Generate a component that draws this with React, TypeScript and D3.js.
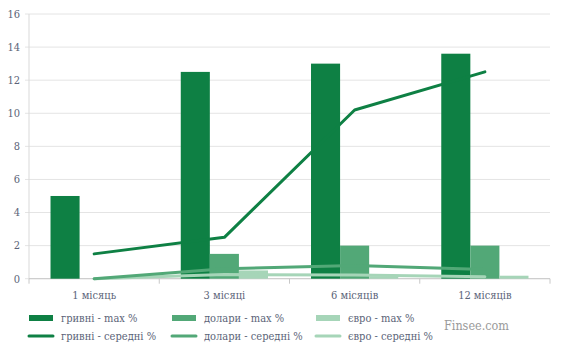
import React from "react";
import * as d3 from "d3";

const categories = ["1 місяць", "3 місяці", "6 місяців", "12 місяців"];
const uahMax = [5, 12.5, 13, 13.6];
const usdMax = [0, 1.5, 2, 2];
const eurMax = [0, 0.5, 0.15, 0.18];
const uahAvg = [1.5, 2.5, 10.2, 12.5];
const usdAvg = [0, 0.6, 0.8, 0.55];
const eurAvg = [0, 0.25, 0.22, 0.12];
const yTicks = [0, 2, 4, 6, 8, 10, 12, 14, 16];

const C_UAH = "#0e8044";
const C_USD = "#52a877";
const C_EUR = "#a6d5b8";
const TEXT = "#5b6478";
const FONT = "'DejaVu Serif Condensed', 'DejaVu Serif', serif";

export default function App() {
  const W = 565, H = 356;
  const left = 29, right = 550, top = 14, bottom = 278.7;
  const x = d3.scaleBand<string>().domain(categories).range([left, right]).paddingInner(0).paddingOuter(0);
  const y = d3.scaleLinear().domain([0, 16]).range([bottom, top]);
  const inner = d3.scaleBand<string>().domain(["uah", "usd", "eur"]).range([0, x.bandwidth()]).paddingInner(0).paddingOuter(0.74);
  const line = d3.line<number>().x((_, i) => x(categories[i])! + x.bandwidth() / 2).y((d) => y(d));

  const barSeries = [
    { key: "uah", vals: uahMax, color: C_UAH },
    { key: "usd", vals: usdMax, color: C_USD },
    { key: "eur", vals: eurMax, color: C_EUR },
  ];
  const lineSeries = [
    { vals: eurAvg, color: C_EUR },
    { vals: usdAvg, color: C_USD },
    { vals: uahAvg, color: C_UAH },
  ];
  const legend = [
    { label: "гривні - max %", color: C_UAH, type: "bar" },
    { label: "долари - max %", color: C_USD, type: "bar" },
    { label: "євро - max %", color: C_EUR, type: "bar" },
    { label: "гривні - середні %", color: C_UAH, type: "line" },
    { label: "долари - середні %", color: C_USD, type: "line" },
    { label: "євро - середні %", color: C_EUR, type: "line" },
  ];
  const legX = [29, 172, 316];
  const legY = [318, 336];
  const boundaries = [...categories.map((c) => x(c)!), right];
  const txt = { fontStretch: "condensed" } as React.CSSProperties;

  return (
    <svg width={W} height={H} style={{ position: "absolute", left: 0, top: 0, background: "#fff" }} fontFamily={FONT}>
      {yTicks.map((t) => (
        <g key={t}>
          <line x1={left - 4} x2={right} y1={y(t)} y2={y(t)} stroke="#e4e4e4" strokeWidth={1} />
          <text x={left - 9} y={y(t)} dy="0.35em" textAnchor="end" fontSize={11} fill={TEXT} style={txt}>{t}</text>
        </g>
      ))}
      <line x1={left} x2={left} y1={top} y2={bottom} stroke="#d9d9d9" />
      <line x1={left} x2={right} y1={bottom} y2={bottom} stroke="#c8c8c8" />
      {boundaries.map((b, i) => (
        <line key={i} x1={b} x2={b} y1={bottom} y2={bottom + 5} stroke="#c8c8c8" />
      ))}
      {barSeries.map((s) =>
        s.vals.map((v, i) => (
          <rect key={s.key + i} x={x(categories[i])! + inner(s.key)!} width={inner.bandwidth()} y={y(v)} height={y(0) - y(v)} fill={s.color} />
        ))
      )}
      {lineSeries.map((s, i) => (
        <path key={i} d={line(s.vals)!} fill="none" stroke={s.color} strokeWidth={3} strokeLinejoin="round" strokeLinecap="round" />
      ))}
      {categories.map((c) => (
        <text key={c} x={x(c)! + x.bandwidth() / 2} y={295} dy="0.35em" textAnchor="middle" fontSize={11} fill={TEXT} style={txt}>{c}</text>
      ))}
      {legend.map((l, i) => {
        const lx = legX[i % 3];
        const ly = legY[Math.floor(i / 3)];
        return (
          <g key={l.label}>
            {l.type === "bar" ? (
              <rect x={lx} y={ly - 3} width={24} height={6} fill={l.color} />
            ) : (
              <line x1={lx} x2={lx + 24} y1={ly} y2={ly} stroke={l.color} strokeWidth={3} strokeLinecap="round" />
            )}
            <text x={lx + 32} y={ly} dy="0.35em" fontSize={11} fill={TEXT} style={txt}>{l.label}</text>
          </g>
        );
      })}
      <text x={509} y={326} dy="0.35em" textAnchor="end" fontSize={12.5} fill="#9a9a9a" style={txt}>Finsee.com</text>
    </svg>
  );
}
